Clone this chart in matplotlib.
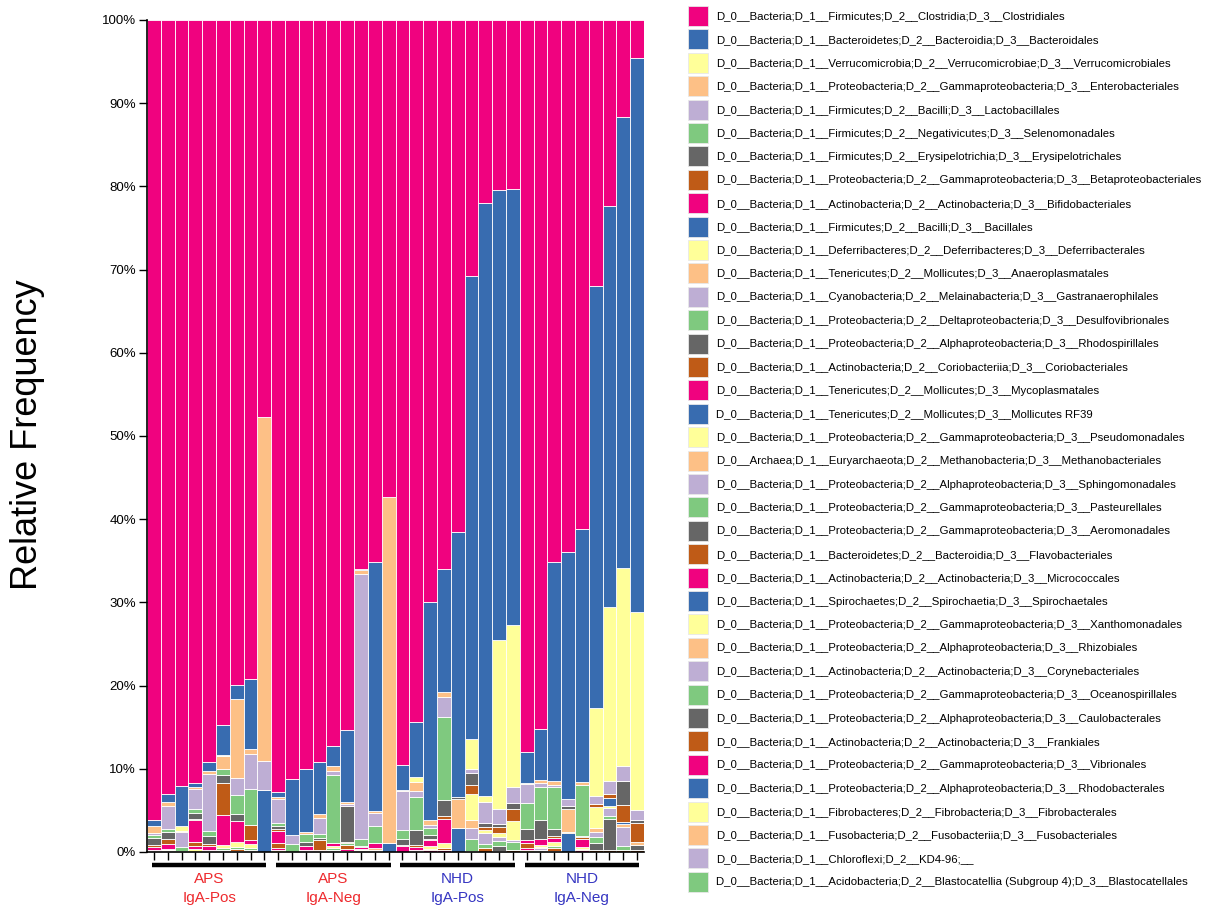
import matplotlib
matplotlib.use("Agg")
import matplotlib.pyplot as plt
from matplotlib.patches import Patch
import numpy as np

plt.rcParams['font.family'] = ['Liberation Sans', 'DejaVu Sans']

# ---------------------------------------------------------------- data
n_samples = 36
group_names = ["APS\nIgA-Pos", "APS\nIgA-Neg", "NHD\nIgA-Pos", "NHD\nIgA-Neg"]
group_size = 9
group_colors = ["#ee2a2e", "#ee2a2e", "#3636c2", "#3636c2"]

taxa = [
    "D_0__Bacteria;D_1__Firmicutes;D_2__Clostridia;D_3__Clostridiales",
    "D_0__Bacteria;D_1__Bacteroidetes;D_2__Bacteroidia;D_3__Bacteroidales",
    "D_0__Bacteria;D_1__Verrucomicrobia;D_2__Verrucomicrobiae;D_3__Verrucomicrobiales",
    "D_0__Bacteria;D_1__Proteobacteria;D_2__Gammaproteobacteria;D_3__Enterobacteriales",
    "D_0__Bacteria;D_1__Firmicutes;D_2__Bacilli;D_3__Lactobacillales",
    "D_0__Bacteria;D_1__Firmicutes;D_2__Negativicutes;D_3__Selenomonadales",
    "D_0__Bacteria;D_1__Firmicutes;D_2__Erysipelotrichia;D_3__Erysipelotrichales",
    "D_0__Bacteria;D_1__Proteobacteria;D_2__Gammaproteobacteria;D_3__Betaproteobacteriales",
    "D_0__Bacteria;D_1__Actinobacteria;D_2__Actinobacteria;D_3__Bifidobacteriales",
    "D_0__Bacteria;D_1__Firmicutes;D_2__Bacilli;D_3__Bacillales",
    "D_0__Bacteria;D_1__Deferribacteres;D_2__Deferribacteres;D_3__Deferribacterales",
    "D_0__Bacteria;D_1__Tenericutes;D_2__Mollicutes;D_3__Anaeroplasmatales",
    "D_0__Bacteria;D_1__Cyanobacteria;D_2__Melainabacteria;D_3__Gastranaerophilales",
    "D_0__Bacteria;D_1__Proteobacteria;D_2__Deltaproteobacteria;D_3__Desulfovibrionales",
    "D_0__Bacteria;D_1__Proteobacteria;D_2__Alphaproteobacteria;D_3__Rhodospirillales",
    "D_0__Bacteria;D_1__Actinobacteria;D_2__Coriobacteriia;D_3__Coriobacteriales",
    "D_0__Bacteria;D_1__Tenericutes;D_2__Mollicutes;D_3__Mycoplasmatales",
    "D_0__Bacteria;D_1__Tenericutes;D_2__Mollicutes;D_3__Mollicutes RF39",
    "D_0__Bacteria;D_1__Proteobacteria;D_2__Gammaproteobacteria;D_3__Pseudomonadales",
    "D_0__Archaea;D_1__Euryarchaeota;D_2__Methanobacteria;D_3__Methanobacteriales",
    "D_0__Bacteria;D_1__Proteobacteria;D_2__Alphaproteobacteria;D_3__Sphingomonadales",
    "D_0__Bacteria;D_1__Proteobacteria;D_2__Gammaproteobacteria;D_3__Pasteurellales",
    "D_0__Bacteria;D_1__Proteobacteria;D_2__Gammaproteobacteria;D_3__Aeromonadales",
    "D_0__Bacteria;D_1__Bacteroidetes;D_2__Bacteroidia;D_3__Flavobacteriales",
    "D_0__Bacteria;D_1__Actinobacteria;D_2__Actinobacteria;D_3__Micrococcales",
    "D_0__Bacteria;D_1__Spirochaetes;D_2__Spirochaetia;D_3__Spirochaetales",
    "D_0__Bacteria;D_1__Proteobacteria;D_2__Gammaproteobacteria;D_3__Xanthomonadales",
    "D_0__Bacteria;D_1__Proteobacteria;D_2__Alphaproteobacteria;D_3__Rhizobiales",
    "D_0__Bacteria;D_1__Actinobacteria;D_2__Actinobacteria;D_3__Corynebacteriales",
    "D_0__Bacteria;D_1__Proteobacteria;D_2__Gammaproteobacteria;D_3__Oceanospirillales",
    "D_0__Bacteria;D_1__Proteobacteria;D_2__Alphaproteobacteria;D_3__Caulobacterales",
    "D_0__Bacteria;D_1__Actinobacteria;D_2__Actinobacteria;D_3__Frankiales",
    "D_0__Bacteria;D_1__Proteobacteria;D_2__Gammaproteobacteria;D_3__Vibrionales",
    "D_0__Bacteria;D_1__Proteobacteria;D_2__Alphaproteobacteria;D_3__Rhodobacterales",
    "D_0__Bacteria;D_1__Fibrobacteres;D_2__Fibrobacteria;D_3__Fibrobacterales",
    "D_0__Bacteria;D_1__Fusobacteria;D_2__Fusobacteriia;D_3__Fusobacteriales",
    "D_0__Bacteria;D_1__Chloroflexi;D_2__KD4-96;__",
    "D_0__Bacteria;D_1__Acidobacteria;D_2__Blastocatellia (Subgroup 4);D_3__Blastocatellales",
]

# abundant orders: one value per sample (%)
clostridiales = [96.1, 93.0, 92.0, 91.7, 89.2, 84.7, 80.0, 79.2, 47.7,
                 92.8, 91.2, 90.0, 89.2, 87.2, 85.4, 66.0, 65.1, 57.3,
                 89.6, 84.4, 70.0, 66.0, 61.5, 30.8, 22.0, 20.4, 20.3,
                 88.0, 85.2, 65.2, 63.9, 61.2, 32.0, 22.4, 11.6, 4.6]
bacteroidales = [0.8, 0.96, 4.8, 0.52, 1.12, 3.6, 1.6, 8.44, 0,
                 0.52, 6.72, 7.64, 6.28, 2.44, 8.6, 0.1, 29.94, 0,
                 3.04, 6.6, 26.3, 14.76, 31.9, 55.6, 71.2, 54.1, 52.4,
                 3.72, 6.12, 26.36, 29.8, 30.44, 50.68, 48.1, 54.3, 66.5]
verrucomicrobiales = [0, 0, 0.6, 0, 0, 0.16, 0, 0, 0,
                      0, 0, 0, 0, 0, 0, 0, 0, 0,
                      0, 0.52, 0, 0, 0, 3.6, 0.8, 20.4, 19.5,
                      0, 0, 0, 0, 0, 10.6, 21.0, 23.8, 23.9]
enterobacteriales = [0.8, 0.48, 0.2, 0.24, 0.28, 1.52, 9.48, 0.56, 41.4,
                     0.32, 0, 0.28, 0.44, 0.56, 0.32, 0.5, 0.28, 41.66,
                     0.12, 1.12, 0.52, 0.6, 0, 0, 0, 0, 0,
                     0.16, 0.4, 0.4, 0, 0.4, 0, 0, 0, 0]
lactobacillales = [0.2, 2.76, 1.8, 2.4, 6.88, 0, 2.12, 4.24, 3.48,
                   2.88, 1.08, 0, 1.96, 0.52, 0.16, 31.9, 1.52, 0,
                   4.68, 0.68, 0.4, 2.4, 0, 0.52, 2.52, 1.8, 1.92,
                   2.24, 0.44, 0.28, 0.8, 0, 0.96, 1.48, 1.76, 1.12]
selenomonadales = [0.4, 0.4, 0.4, 0.4, 0.64, 0.8, 2.28, 4.28, 0,
                   0.28, 0.96, 0.88, 0.4, 8.2, 0, 0.84, 2.04, 0,
                   1.0, 4.0, 0.88, 10.0, 0, 0, 0, 0, 0,
                   3.12, 4.0, 5.04, 0, 6.04, 0, 0, 0, 0]
erysipelotrichales = [0.9, 0.8, 0, 0.76, 0.96, 0.88, 0.8, 0, 0,
                      0.44, 0, 0.52, 0.32, 0, 4.32, 0.16, 0, 0,
                      0.8, 1.8, 0.44, 2.0, 0.2, 1.4, 0.48, 0.28, 0.76,
                      1.28, 2.28, 0.8, 0.36, 0.2, 0, 0, 2.92, 0.4]
betaproteobacteriales = [0.2, 0.68, 0, 0.12, 0.24, 3.92, 0, 1.8, 0,
                         0.16, 0, 0, 1.2, 0, 0.2, 0, 0, 0,
                         0.1, 0.2, 0.16, 0.32, 0, 1.08, 0.32, 0.72, 1.4,
                         0, 0, 0.28, 0, 0.2, 0.32, 0.52, 2.0, 2.32]
bifidobacteriales = [0.3, 0.52, 0.1, 2.6, 0.4, 3.6, 2.5, 0.48, 0,
                     1.52, 0, 0.48, 0.12, 0.28, 0, 0.2, 0.6, 0,
                     0.66, 0.4, 0.72, 2.88, 0, 0, 0, 0, 0,
                     0.4, 0.72, 0.48, 0, 0.96, 0, 0, 0, 0]

# low-abundance orders: {sample index: %}
bacillales = {8: 7.44, 17: 1.04, 33: 0.96, 34: 0.2}
deferribacterales = {0: 0.1, 1: 0.2, 2: 0.06, 4: 0.1, 5: 0.28, 6: 0.68, 7: 0.52,
                     11: 0.12, 12: 0.1, 13: 0.32, 15: 0.16, 19: 0.12, 20: 0.32,
                     21: 0.6, 23: 3.12, 24: 0.4, 25: 0.48, 26: 2.32, 28: 0.2,
                     29: 0.52, 31: 0.2, 32: 2.6, 33: 0.3}
anaeroplasmatales = {16: 0.28, 22: 3.56, 23: 0.92, 28: 0.2, 30: 2.72, 32: 0.4,
                     34: 0.4, 35: 0.28}
gastranaerophilales = {23: 1.4, 24: 1.28, 25: 0.52, 26: 0.2, 28: 0.2, 32: 0.6,
                       33: 0.88, 34: 2.32}
desulfovibrionales = {5: 0.32, 6: 0.2, 7: 0.2, 13: 0.2, 14: 0.2, 23: 1.36,
                      24: 0.52, 25: 0.56, 26: 1.0, 29: 0.22, 32: 0.8, 33: 0.4,
                      34: 0.48}
rhodospirillales = {25: 0.6, 32: 0.8, 33: 3.72, 35: 0.68}
coriobacteriales = {0: 0.1, 1: 0.1, 3: 0.48, 4: 0.1, 5: 0.1, 6: 0.2, 7: 0.14,
                    9: 0.6, 11: 0.12, 13: 0.14, 14: 0.52, 15: 0.1, 16: 0.12,
                    19: 0.12, 20: 0.16, 21: 0.24, 23: 0.16, 24: 0.44, 25: 0.16,
                    26: 0.24, 27: 0.6, 28: 0.12, 29: 0.32, 30: 0.12, 31: 0.2,
                    32: 0.24, 33: 0.24, 34: 0.22, 35: 0.2}
mycoplasmatales = {0: 0.1, 1: 0.1, 3: 0.44, 4: 0.1, 5: 0.1, 6: 0.16, 7: 0.1,
                   9: 0.2, 13: 0.1, 14: 0.16, 15: 0.1, 16: 0.12, 20: 0.16,
                   21: 0.2, 27: 0.2, 28: 0.12, 29: 0.1, 31: 0.16}
mollicutes_rf39 = {22: 2.84, 30: 2.32}
pseudomonadales = {3: 0.32, 9: 0.24, 14: 0.16, 27: 0.28}
methanobacteriales = {18: 0.05, 29: 0.05}
sphingomonadales = {20: 0.04}
pasteurellales = {21: 0.04}
aeromonadales = {}
flavobacteriales = {31: 0.04}
micrococcales = {}
spirochaetales = {}
xanthomonadales = {}
rhizobiales = {}
corynebacteriales = {}
oceanospirillales = {}
caulobacterales = {}
frankiales = {}
vibrionales = {}
rhodobacterales = {}
fibrobacterales = {}
fusobacteriales = {}
kd4_96 = {}
blastocatellales = {}

abundances = [
    clostridiales, bacteroidales, verrucomicrobiales, enterobacteriales,
    lactobacillales, selenomonadales, erysipelotrichales, betaproteobacteriales,
    bifidobacteriales, bacillales, deferribacterales, anaeroplasmatales,
    gastranaerophilales, desulfovibrionales, rhodospirillales, coriobacteriales,
    mycoplasmatales, mollicutes_rf39, pseudomonadales, methanobacteriales,
    sphingomonadales, pasteurellales, aeromonadales, flavobacteriales,
    micrococcales, spirochaetales, xanthomonadales, rhizobiales,
    corynebacteriales, oceanospirillales, caulobacterales, frankiales,
    vibrionales, rhodobacterales, fibrobacterales, fusobacteriales,
    kd4_96, blastocatellales,
]

# ---------------------------------------------------------------- table
table = np.zeros((len(taxa), n_samples))
for k, series in enumerate(abundances):
    if isinstance(series, dict):
        for i, v in series.items():
            table[k, i] = v
    else:
        table[k, :] = series
rel = table / table.sum(axis=0, keepdims=True) * 100.0

palette = ["#f0027f", "#386cb0", "#ffff99", "#fdc086",
           "#beaed4", "#7fc97f", "#666666", "#bf5b17"]
colors = [palette[k % len(palette)] for k in range(len(taxa))]

# ---------------------------------------------------------------- figure
W, H = 1217, 914
fig = plt.figure(figsize=(W / 100, H / 100), dpi=100)
ax = fig.add_axes([147 / W, 1 - 852 / H, (644 - 147) / W, (852 - 20) / H])

x = np.arange(n_samples)
bottom = np.zeros(n_samples)
# first taxon sits on top of each column, the last one on the baseline
for k in range(len(taxa) - 1, -1, -1):
    ax.bar(x, rel[k], width=1.0, bottom=bottom, color=colors[k],
           edgecolor="white", linewidth=0.6)
    bottom += rel[k]

ax.set_xlim(-0.5, n_samples - 0.5)
ax.set_ylim(0, 100)
for side in ("top", "right"):
    ax.spines[side].set_visible(False)
ax.spines["left"].set_linewidth(1.2)
ax.spines["bottom"].set_linewidth(1.2)

yticks = np.arange(0, 101, 10)
ax.set_yticks(yticks)
ax.set_yticklabels([f"{v}%" for v in yticks])
ax.tick_params(axis="y", length=6, width=1.0, labelsize=9.5, pad=2)
ax.set_xticks(x)
ax.set_xticklabels([])
ax.tick_params(axis="x", length=5.5, width=1.0)

fig.text(28 / W, 1 - 435 / H, "Relative Frequency", rotation=90,
         fontsize=26, ha="center", va="center")

# group bars and labels under the axis
trans = ax.get_xaxis_transform()
px = 1 / 832.0
for g, name in enumerate(group_names):
    first = g * group_size
    last = first + group_size - 1
    center = (first + last) / 2
    ax.plot([center - 4.15, center + 4.15], [-13 * px, -13 * px],
            color="black", lw=3.2, transform=trans, clip_on=False,
            solid_capstyle="butt")
    top, bottom_line = name.split("\n")
    ax.text(center, -27 * px, top, transform=trans, ha="center", va="center",
            fontsize=11, color=group_colors[g])
    ax.text(center, -46 * px, bottom_line, transform=trans, ha="center",
            va="center", fontsize=11, color=group_colors[g])

# legend: 20 px swatches on a 23.4 px pitch
leg_fs = 8.2
fs_px = leg_fs * 100 / 72
swatch = 20.0
hh = (swatch / fs_px - 0.245) / 0.65
handles = [Patch(facecolor=c, edgecolor="#e8e8e8", linewidth=0.6) for c in colors]
fig.legend(handles, taxa, loc="upper left",
           bbox_to_anchor=(688 / W, 1 - 6 / H), frameon=False,
           fontsize=leg_fs, handlelength=swatch / fs_px, handleheight=hh,
           handletextpad=8 / fs_px, labelspacing=3.4 / fs_px, borderpad=0,
           borderaxespad=0)

fig.savefig("out.png", dpi=100)
